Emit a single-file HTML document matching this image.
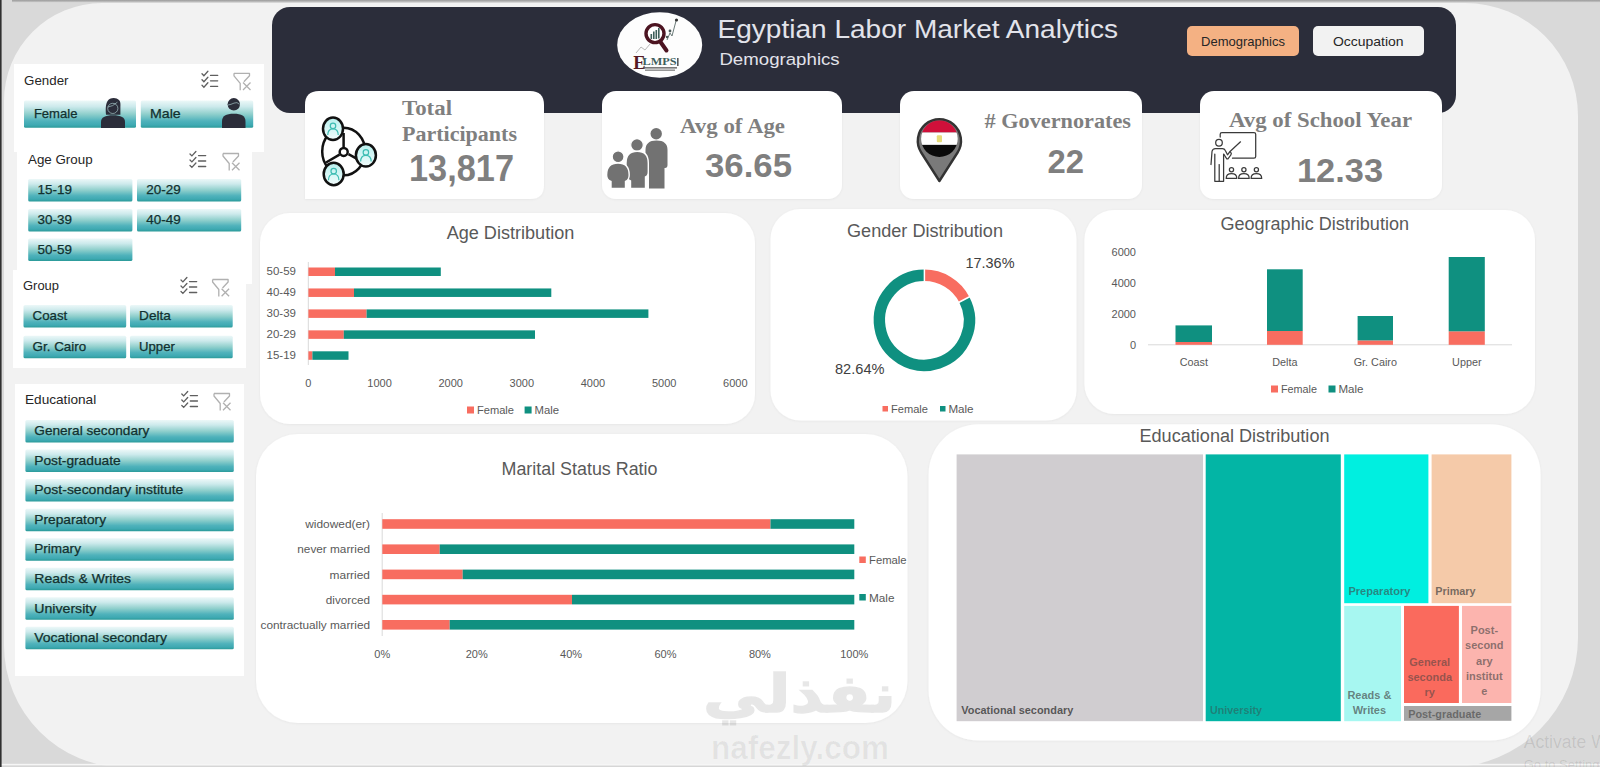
<!DOCTYPE html>
<html lang="en"><head><meta charset="utf-8"><title>Egyptian Labor Market Analytics - Demographics</title>
<style>
html,body{margin:0;padding:0;width:1600px;height:767px;overflow:hidden;background:#d9d9d9}
svg{display:block}
.f1{font-family:"Liberation Sans", "DejaVu Sans", sans-serif}
.f2{font-family:"Liberation Serif", "DejaVu Serif", serif}
</style></head><body>
<svg width="1600" height="767" viewBox="0 0 1600 767">
<defs>
<linearGradient id="topline" x1="0" y1="0" x2="0" y2="1"><stop offset="0" stop-color="#9a9a9a"/><stop offset="1" stop-color="#c8c8c8"/></linearGradient>
<linearGradient id="bg" x1="0" y1="0" x2="0" y2="1">
<stop offset="0" stop-color="#ecf8f8"/><stop offset="0.22" stop-color="#cdeaec"/><stop offset="0.5" stop-color="#8fcfcc"/>
<stop offset="0.75" stop-color="#4fb2bb"/><stop offset="0.9" stop-color="#3ea9b2"/><stop offset="1" stop-color="#2b9a98"/></linearGradient>
<linearGradient id="cyg" x1="0" y1="0" x2="0" y2="1"><stop offset="0" stop-color="#b9f0ee"/><stop offset="1" stop-color="#f2fcfc"/></linearGradient>
<filter id="sh" x="-10%" y="-10%" width="120%" height="130%"><feDropShadow dx="0" dy="0.5" stdDeviation="1.2" flood-color="#000" flood-opacity="0.06"/></filter>
<filter id="sh2" x="-10%" y="-10%" width="120%" height="130%"><feDropShadow dx="0" dy="0.5" stdDeviation="1.2" flood-color="#000" flood-opacity="0.06"/></filter>
</defs>
<rect x="0" y="0" width="1600" height="767" fill="#d9d9d9"/>
<rect x="12" y="0" width="1588" height="2.2" fill="url(#topline)"/>
<path d="M102,3 H1465 A113,113 0 0 1 1578,116 V637.5 A130,130 0 0 1 1448,767.5 H126 A122,122 0 0 1 4,645.5 V101 A98,98 0 0 1 102,3 Z" fill="#f2f2f2"/>
<rect x="0" y="763.8" width="1600" height="1.8" fill="#f6f6f6"/>
<rect x="0" y="765.6" width="1600" height="1.4" fill="#d6d6d6"/>
<rect x="0" y="0" width="1.6" height="767" fill="#303030"/>
<rect x="272" y="7" width="1184" height="106" rx="18" fill="#2b2d3a"/>
<ellipse cx="659.7" cy="45" rx="42.5" ry="32.7" fill="#fdfdfd"/>
<g><polyline points="636,53 641,47 645,50 650,44" fill="none" stroke="#b8b8b8" stroke-width="1"/><polyline points="667,40 670,33 672,36 676,21" fill="none" stroke="#6a7a78" stroke-width="1"/><circle cx="676.5" cy="20" r="1.6" fill="#333"/><circle cx="670" cy="31" r="1.4" fill="#4a5a58"/><circle cx="667" cy="37" r="1.2" fill="#4a5a58"/><line x1="660.5" y1="42" x2="666.5" y2="50.5" stroke="#4c1421" stroke-width="4" stroke-linecap="round"/><circle cx="655" cy="33.6" r="9" fill="#fff" stroke="#4c1421" stroke-width="3.4"/><rect x="650.5" y="34" width="1.6" height="5" fill="#3e5f5a"/><rect x="653" y="31.5" width="1.6" height="7.5" fill="#3e5f5a"/><rect x="655.5" y="30" width="1.6" height="9" fill="#3e5f5a"/><rect x="658" y="28" width="1.6" height="10.5" fill="#3e5f5a"/></g>
<text x="633.2" y="69.3" font-family='"Liberation Serif", "DejaVu Serif", serif' font-size="18.5" font-weight="bold" fill="#561a25">E</text>
<text x="642.5" y="65.4" font-family='"Liberation Serif", "DejaVu Serif", serif' font-size="10.8" font-weight="bold" fill="#3f5f5c" textLength="34" lengthAdjust="spacingAndGlyphs">LMPS</text>
<rect x="677" y="58" width="1.6" height="8" fill="#5a5a5a"/>
<rect x="643" y="67.2" width="34" height="1.3" fill="#5a5a5a"/><rect x="645" y="69.6" width="30" height="1.1" fill="#6a6a6a"/>
<text class="f1" x="717.5" y="38.2" font-size="25.2" fill="#e2e3ea" textLength="400.5" lengthAdjust="spacingAndGlyphs">Egyptian Labor Market Analytics</text>
<text class="f1" x="719.4" y="65" font-size="16.8" fill="#e2e3ea" textLength="120.3" lengthAdjust="spacingAndGlyphs">Demographics</text>
<rect x="1187" y="26" width="112" height="30" rx="5" fill="#f4b183"/>
<text class="f1" x="1201" y="46.3" font-size="13.3" fill="#262626" textLength="84" lengthAdjust="spacingAndGlyphs">Demographics</text>
<rect x="1313" y="26" width="111" height="30" rx="5" fill="#f2f2f2"/>
<text class="f1" x="1333" y="46.3" font-size="13.3" fill="#262626" textLength="70.6" lengthAdjust="spacingAndGlyphs">Occupation</text>
<path d="M319,91 H530 Q544,91 544,105 V185 Q544,199 530,199 H305 Q305,199 305,199 V105 Q305,91 319,91 Z" fill="#fff" filter="url(#sh)"/>
<rect x="602" y="91" width="240" height="108" rx="14" fill="#fff" filter="url(#sh)"/>
<rect x="900" y="91" width="242" height="108" rx="14" fill="#fff" filter="url(#sh)"/>
<rect x="1200" y="91" width="242" height="108" rx="14" fill="#fff" filter="url(#sh)"/>
<text class="f2" x="402" y="115" font-size="20" fill="#7f7f7f" font-weight="bold" textLength="50" lengthAdjust="spacingAndGlyphs">Total</text>
<text class="f2" x="402" y="141.3" font-size="20" fill="#7f7f7f" font-weight="bold" textLength="115" lengthAdjust="spacingAndGlyphs">Participants</text>
<text class="f1" x="409" y="181" font-size="36" fill="#7f7f7f" font-weight="bold" textLength="105" lengthAdjust="spacingAndGlyphs">13,817</text>
<text class="f2" x="680" y="133" font-size="20" fill="#7f7f7f" font-weight="bold" textLength="105" lengthAdjust="spacingAndGlyphs">Avg of Age</text>
<text class="f1" x="705" y="177" font-size="33" fill="#7f7f7f" font-weight="bold" textLength="87" lengthAdjust="spacingAndGlyphs">36.65</text>
<text class="f2" x="984.5" y="127.6" font-size="21" fill="#7f7f7f" font-weight="bold" textLength="146.5" lengthAdjust="spacingAndGlyphs"># Governorates</text>
<text class="f1" x="1047.5" y="173" font-size="33.5" fill="#7f7f7f" font-weight="bold" textLength="36.5" lengthAdjust="spacingAndGlyphs">22</text>
<text class="f2" x="1229" y="127" font-size="21.5" fill="#7f7f7f" font-weight="bold" textLength="183" lengthAdjust="spacingAndGlyphs">Avg of School Year</text>
<text class="f1" x="1297" y="181.5" font-size="34" fill="#7f7f7f" font-weight="bold" textLength="86" lengthAdjust="spacingAndGlyphs">12.33</text>
<g>
<ellipse cx="343.7" cy="151.5" rx="21.5" ry="23.8" fill="none" stroke="#111" stroke-width="2.5"/>
<path d="M343.6,147 V133 M339.5,154.6 L326,162.5 M348.5,154.2 L357,158.8" stroke="#111" stroke-width="2.5" fill="none"/>
<circle cx="343.7" cy="151.9" r="4" fill="#fff" stroke="#111" stroke-width="2.5"/>
<ellipse cx="333" cy="128.8" rx="10" ry="11.2" fill="url(#cyg)" stroke="#111" stroke-width="2.5"/>
<circle cx="333" cy="125.94000000000001" r="2.7300000000000004" fill="none" stroke="#3dbdb3" stroke-width="1.2"/><path d="M327.75,135.07500000000002 Q327.75,128.775 333,128.775 Q338.25,128.775 338.25,135.07500000000002" fill="none" stroke="#3dbdb3" stroke-width="1.2"/>
<ellipse cx="365.9" cy="155.3" rx="10" ry="11.2" fill="url(#cyg)" stroke="#111" stroke-width="2.5"/>
<circle cx="365.9" cy="152.44" r="2.7300000000000004" fill="none" stroke="#3dbdb3" stroke-width="1.2"/><path d="M360.65,161.57500000000002 Q360.65,155.275 365.9,155.275 Q371.15,155.275 371.15,161.57500000000002" fill="none" stroke="#3dbdb3" stroke-width="1.2"/>
<ellipse cx="333.7" cy="174" rx="10" ry="11.2" fill="url(#cyg)" stroke="#111" stroke-width="2.5"/>
<circle cx="333.7" cy="171.14" r="2.7300000000000004" fill="none" stroke="#3dbdb3" stroke-width="1.2"/><path d="M328.45,180.275 Q328.45,173.975 333.7,173.975 Q338.95,173.975 338.95,180.275" fill="none" stroke="#3dbdb3" stroke-width="1.2"/>
</g>
<g>
<circle cx="656.2" cy="133.7" r="5.7" fill="#727272"/>
<path d="M645.5,150 Q645.5,140.5 656.5,140.5 Q667.5,140.5 667.5,150 V165 Q667.5,168 665,168 H664.5 V188.5 H649 V172 Q645.5,170 645.5,165 Z" fill="#727272"/>
<circle cx="637" cy="145" r="6.3" fill="#727272" stroke="#fff" stroke-width="1.2"/>
<path d="M626,163 Q626,151.3 637.2,151.3 Q648.3,151.3 648.3,163 V172 Q648.3,176 645.5,177 V188.5 H630.5 V181 Q626,179 626,174 Z" fill="#727272" stroke="#fff" stroke-width="1.4"/>
<circle cx="618.1" cy="156.7" r="5.9" fill="#727272" stroke="#fff" stroke-width="1.2"/>
<path d="M606.6,175 Q606.6,163 618,163 Q629.2,163 629.2,175 Q629.2,180 625.5,181.5 V188.5 H611 V181.5 Q606.6,180 606.6,175 Z" fill="#727272" stroke="#fff" stroke-width="1.4"/>
</g>
<g>
<path d="M939.4,181 L921.2,152.5 A21.6,21.6 0 1 1 957.6,152.5 Z" fill="#7a7a7a" stroke="#333" stroke-width="2.4" stroke-linejoin="round"/>
<clipPath id="flagc"><circle cx="939.4" cy="138.7" r="18.3"/></clipPath>
<g clip-path="url(#flagc)"><rect x="920" y="119" width="40" height="13.5" fill="#d0103a"/><rect x="920" y="132.5" width="40" height="12.4" fill="#fff"/><rect x="920" y="144.9" width="40" height="13" fill="#0a0a0a"/></g>
<rect x="936.8" y="135.3" width="5.2" height="7" rx="1" fill="#e6dc7a"/>
</g>
<g fill="none" stroke="#3a3a3a" stroke-width="1.25" stroke-linecap="round" stroke-linejoin="round">
<path d="M1220.2,137 V134.3 Q1220.2,132.6 1222,132.6 H1254 Q1255.7,132.6 1255.7,134.3 V156.5 Q1255.7,158.2 1254,158.2 H1232.5"/>
<circle cx="1219" cy="142.7" r="3.3"/>
<path d="M1211,164.5 L1212,151.5 Q1212.5,148.5 1215.5,148.5 H1222.5 Q1224.5,148.5 1225.3,150.5 L1227.5,154.8 L1230,151.5 L1240.5,141.8"/>
<path d="M1230.5,152 Q1232,153.5 1230.8,155 L1228,158.8 L1226.8,158.8 L1224,154.5"/>
<path d="M1214.8,154 V181.3 H1223.6 V154"/>
<path d="M1219.2,164.5 V181.3"/>
<circle cx="1231.5" cy="169.7" r="2.1"/>
<path d="M1226.2,178.4 Q1226.2,173.7 1231.5,173.7 Q1236.8,173.7 1236.8,178.4 Z"/>
<circle cx="1243.9" cy="169.7" r="2.1"/>
<path d="M1238.6000000000001,178.4 Q1238.6000000000001,173.7 1243.9,173.7 Q1249.2,173.7 1249.2,178.4 Z"/>
<circle cx="1256.4" cy="169.7" r="2.1"/>
<path d="M1251.1000000000001,178.4 Q1251.1000000000001,173.7 1256.4,173.7 Q1261.7,173.7 1261.7,178.4 Z"/>
</g>
<rect x="14" y="64" width="250" height="88" fill="#fff"/>
<rect x="17" y="140" width="235" height="144" fill="#fff"/>
<rect x="13" y="270" width="233" height="98" fill="#fff"/>
<rect x="15" y="384" width="229" height="292" fill="#fff"/>
<text class="f1" x="24.1" y="85.2" font-size="13" fill="#262626" textLength="44.4" lengthAdjust="spacingAndGlyphs">Gender</text>
<g fill="none" stroke="#5f5f5f" stroke-width="1.3" stroke-linecap="round"><path d="M202,73.8 l1.9,1.9 l4,-4.4"/><path d="M202,79.8 l1.9,1.9 l4,-4.4"/><path d="M202,85.3 l1.9,1.9 l4,-4.4"/><path d="M210.5,75.4 h7.2 M210.5,80.8 h7.2 M210.5,86.3 h7.2"/></g>
<g fill="none" stroke="#b0b0b0" stroke-width="1.3" stroke-linejoin="round"><path d="M234,73.3 h15.5 v2.5 l-5.6,6 M234,73.3 v2.5 l6.2,7.5 v7"/><path d="M243,82.5 l7.5,7.5 M250.5,82.5 l-7.5,7.5"/></g>
<rect x="24" y="100.5" width="112" height="27.3" rx="1.5" fill="url(#bg)"/>
<text class="f1" x="33.9" y="117.5" font-size="13.2" fill="#11302f" textLength="43.5" lengthAdjust="spacingAndGlyphs" stroke="#11302f" stroke-width="0.25">Female</text>
<rect x="140.8" y="100.5" width="112.4" height="27.3" rx="1.5" fill="url(#bg)"/>
<text class="f1" x="150" y="117.5" font-size="13.2" fill="#11302f" textLength="30.7" lengthAdjust="spacingAndGlyphs" stroke="#11302f" stroke-width="0.25">Male</text>
<path d="M106,114.7 C105.4,108 105.6,101.2 110,98.8 C113,97.2 117,97.8 119,100 C120.6,101.6 120.6,104 120.4,107 L120.4,114.7 Z" fill="#2b2d3a"/>
<circle cx="112.8" cy="108.4" r="5.1" fill="#2b2d3a" stroke="#b9dede" stroke-width="0.6"/>
<path d="M107.9,107 Q112.6,106.6 117.4,102.2" fill="none" stroke="#b9dede" stroke-width="0.6"/>
<path d="M101,128 V122 C101,117.4 105,115.3 113,115.3 C121,115.3 125,117.4 125,122 V128 Z" fill="#2b2d3a"/>
<circle cx="233.8" cy="104.3" r="6.2" fill="#2b2d3a"/>
<path d="M228,105 Q231,104.6 234,103.1 Q237.2,101.5 239.6,104.4" fill="none" stroke="#b9dede" stroke-width="0.6"/>
<path d="M222,128 V121.6 C222,116 226,113.8 233.8,113.8 C241.5,113.8 245.5,116 245.5,121.6 V128 Z" fill="#2b2d3a"/>
<text class="f1" x="28" y="163.5" font-size="13" fill="#262626" textLength="64.6" lengthAdjust="spacingAndGlyphs">Age Group</text>
<g fill="none" stroke="#5f5f5f" stroke-width="1.3" stroke-linecap="round"><path d="M190,154.0 l1.9,1.9 l4,-4.4"/><path d="M190,160.0 l1.9,1.9 l4,-4.4"/><path d="M190,165.5 l1.9,1.9 l4,-4.4"/><path d="M198.5,155.6 h7.2 M198.5,161.0 h7.2 M198.5,166.5 h7.2"/></g>
<g fill="none" stroke="#b0b0b0" stroke-width="1.3" stroke-linejoin="round"><path d="M223,153.5 h15.5 v2.5 l-5.6,6 M223,153.5 v2.5 l6.2,7.5 v7"/><path d="M232,162.7 l7.5,7.5 M239.5,162.7 l-7.5,7.5"/></g>
<rect x="28.2" y="179" width="104.2" height="22.4" rx="1.5" fill="url(#bg)"/>
<text class="f1" x="37.5" y="194.2" font-size="13" fill="#11302f" textLength="34.4" lengthAdjust="spacingAndGlyphs" stroke="#11302f" stroke-width="0.25">15-19</text>
<rect x="137" y="179" width="104.2" height="22.4" rx="1.5" fill="url(#bg)"/>
<text class="f1" x="146.3" y="194.2" font-size="13" fill="#11302f" textLength="34.4" lengthAdjust="spacingAndGlyphs" stroke="#11302f" stroke-width="0.25">20-29</text>
<rect x="28.2" y="209" width="104.2" height="22.4" rx="1.5" fill="url(#bg)"/>
<text class="f1" x="37.5" y="224.2" font-size="13" fill="#11302f" textLength="34.4" lengthAdjust="spacingAndGlyphs" stroke="#11302f" stroke-width="0.25">30-39</text>
<rect x="137" y="209" width="104.2" height="22.4" rx="1.5" fill="url(#bg)"/>
<text class="f1" x="146.3" y="224.2" font-size="13" fill="#11302f" textLength="34.4" lengthAdjust="spacingAndGlyphs" stroke="#11302f" stroke-width="0.25">40-49</text>
<rect x="28.2" y="238.5" width="104.2" height="22.4" rx="1.5" fill="url(#bg)"/>
<text class="f1" x="37.5" y="253.7" font-size="13" fill="#11302f" textLength="34.4" lengthAdjust="spacingAndGlyphs" stroke="#11302f" stroke-width="0.25">50-59</text>
<text class="f1" x="23" y="290" font-size="13" fill="#262626" textLength="36" lengthAdjust="spacingAndGlyphs">Group</text>
<g fill="none" stroke="#5f5f5f" stroke-width="1.3" stroke-linecap="round"><path d="M181,280.0 l1.9,1.9 l4,-4.4"/><path d="M181,286.0 l1.9,1.9 l4,-4.4"/><path d="M181,291.5 l1.9,1.9 l4,-4.4"/><path d="M189.5,281.59999999999997 h7.2 M189.5,287.0 h7.2 M189.5,292.5 h7.2"/></g>
<g fill="none" stroke="#b0b0b0" stroke-width="1.3" stroke-linejoin="round"><path d="M212.6,279.5 h15.5 v2.5 l-5.6,6 M212.6,279.5 v2.5 l6.2,7.5 v7"/><path d="M221.6,288.7 l7.5,7.5 M229.1,288.7 l-7.5,7.5"/></g>
<rect x="23.5" y="305" width="102.7" height="22.6" rx="1.5" fill="url(#bg)"/>
<text class="f1" x="32.6" y="320.3" font-size="13" fill="#11302f" textLength="34.7" lengthAdjust="spacingAndGlyphs" stroke="#11302f" stroke-width="0.25">Coast</text>
<rect x="130" y="305" width="102.7" height="22.6" rx="1.5" fill="url(#bg)"/>
<text class="f1" x="139.1" y="320.3" font-size="13" fill="#11302f" textLength="31.8" lengthAdjust="spacingAndGlyphs" stroke="#11302f" stroke-width="0.25">Delta</text>
<rect x="23.5" y="335.7" width="102.7" height="22.6" rx="1.5" fill="url(#bg)"/>
<text class="f1" x="32.6" y="351.0" font-size="13" fill="#11302f" textLength="53.5" lengthAdjust="spacingAndGlyphs" stroke="#11302f" stroke-width="0.25">Gr. Cairo</text>
<rect x="130" y="335.7" width="102.7" height="22.6" rx="1.5" fill="url(#bg)"/>
<text class="f1" x="139.1" y="351.0" font-size="13" fill="#11302f" textLength="35.7" lengthAdjust="spacingAndGlyphs" stroke="#11302f" stroke-width="0.25">Upper</text>
<text class="f1" x="25" y="403.5" font-size="13" fill="#262626" textLength="71.2" lengthAdjust="spacingAndGlyphs">Educational</text>
<g fill="none" stroke="#5f5f5f" stroke-width="1.3" stroke-linecap="round"><path d="M181.8,394.0 l1.9,1.9 l4,-4.4"/><path d="M181.8,400.0 l1.9,1.9 l4,-4.4"/><path d="M181.8,405.5 l1.9,1.9 l4,-4.4"/><path d="M190.3,395.59999999999997 h7.2 M190.3,401.0 h7.2 M190.3,406.5 h7.2"/></g>
<g fill="none" stroke="#b0b0b0" stroke-width="1.3" stroke-linejoin="round"><path d="M214,393.5 h15.5 v2.5 l-5.6,6 M214,393.5 v2.5 l6.2,7.5 v7"/><path d="M223,402.7 l7.5,7.5 M230.5,402.7 l-7.5,7.5"/></g>
<rect x="25.4" y="420.0" width="208.4" height="22.5" rx="1.5" fill="url(#bg)"/>
<text class="f1" x="34.3" y="435.25" font-size="13" fill="#11302f" textLength="115" lengthAdjust="spacingAndGlyphs" stroke="#11302f" stroke-width="0.25">General secondary</text>
<rect x="25.4" y="449.55" width="208.4" height="22.5" rx="1.5" fill="url(#bg)"/>
<text class="f1" x="34.3" y="464.8" font-size="13" fill="#11302f" textLength="86.4" lengthAdjust="spacingAndGlyphs" stroke="#11302f" stroke-width="0.25">Post-graduate</text>
<rect x="25.4" y="479.1" width="208.4" height="22.5" rx="1.5" fill="url(#bg)"/>
<text class="f1" x="34.3" y="494.35" font-size="13" fill="#11302f" textLength="149" lengthAdjust="spacingAndGlyphs" stroke="#11302f" stroke-width="0.25">Post-secondary institute</text>
<rect x="25.4" y="508.65" width="208.4" height="22.5" rx="1.5" fill="url(#bg)"/>
<text class="f1" x="34.3" y="523.9" font-size="13" fill="#11302f" textLength="71.7" lengthAdjust="spacingAndGlyphs" stroke="#11302f" stroke-width="0.25">Preparatory</text>
<rect x="25.4" y="538.2" width="208.4" height="22.5" rx="1.5" fill="url(#bg)"/>
<text class="f1" x="34.3" y="553.45" font-size="13" fill="#11302f" textLength="46.6" lengthAdjust="spacingAndGlyphs" stroke="#11302f" stroke-width="0.25">Primary</text>
<rect x="25.4" y="567.75" width="208.4" height="22.5" rx="1.5" fill="url(#bg)"/>
<text class="f1" x="34.3" y="583.0" font-size="13" fill="#11302f" textLength="96.8" lengthAdjust="spacingAndGlyphs" stroke="#11302f" stroke-width="0.25">Reads &amp; Writes</text>
<rect x="25.4" y="597.3" width="208.4" height="22.5" rx="1.5" fill="url(#bg)"/>
<text class="f1" x="34.3" y="612.55" font-size="13" fill="#11302f" textLength="62" lengthAdjust="spacingAndGlyphs" stroke="#11302f" stroke-width="0.25">University</text>
<rect x="25.4" y="626.85" width="208.4" height="22.5" rx="1.5" fill="url(#bg)"/>
<text class="f1" x="34.3" y="642.1" font-size="13" fill="#11302f" textLength="132.7" lengthAdjust="spacingAndGlyphs" stroke="#11302f" stroke-width="0.25">Vocational secondary</text>
<rect x="260" y="213" width="495" height="211" rx="30" fill="#fff" filter="url(#sh2)"/>
<rect x="770.5" y="209" width="306" height="211.5" rx="30" fill="#fff" filter="url(#sh2)"/>
<rect x="1084.4" y="210" width="450.6" height="204" rx="30" fill="#fff" filter="url(#sh2)"/>
<rect x="256" y="434" width="651.5" height="289" rx="42" fill="#fff" filter="url(#sh2)"/>
<rect x="928.6" y="424.3" width="612" height="316.3" rx="50" fill="#fff" filter="url(#sh2)"/>
<text class="f1" x="510.5" y="239" font-size="18" fill="#595959" text-anchor="middle" textLength="127.7" lengthAdjust="spacingAndGlyphs">Age Distribution</text>
<line x1="308.3" y1="262" x2="308.3" y2="365" stroke="#d9d9d9" stroke-width="1"/>
<rect x="308.4" y="267.50" width="26.60" height="8.5" fill="#f86d60"/>
<rect x="335.00" y="267.50" width="105.80" height="8.5" fill="#0f9080"/>
<text class="f1" x="296" y="275.1" font-size="11.5" fill="#595959" text-anchor="end">50-59</text>
<rect x="308.4" y="288.45" width="45.60" height="8.5" fill="#f86d60"/>
<rect x="354.00" y="288.45" width="197.30" height="8.5" fill="#0f9080"/>
<text class="f1" x="296" y="296.05" font-size="11.5" fill="#595959" text-anchor="end">40-49</text>
<rect x="308.4" y="309.40" width="58.20" height="8.5" fill="#f86d60"/>
<rect x="366.60" y="309.40" width="281.80" height="8.5" fill="#0f9080"/>
<text class="f1" x="296" y="317.0" font-size="11.5" fill="#595959" text-anchor="end">30-39</text>
<rect x="308.4" y="330.35" width="35.40" height="8.5" fill="#f86d60"/>
<rect x="343.80" y="330.35" width="191.20" height="8.5" fill="#0f9080"/>
<text class="f1" x="296" y="337.95" font-size="11.5" fill="#595959" text-anchor="end">20-29</text>
<rect x="308.4" y="351.30" width="4.00" height="8.5" fill="#f86d60"/>
<rect x="312.40" y="351.30" width="36.10" height="8.5" fill="#0f9080"/>
<text class="f1" x="296" y="358.9" font-size="11.5" fill="#595959" text-anchor="end">15-19</text>
<text class="f1" x="308.4" y="386.5" font-size="11" fill="#595959" text-anchor="middle">0</text>
<text class="f1" x="379.55" y="386.5" font-size="11" fill="#595959" text-anchor="middle">1000</text>
<text class="f1" x="450.7" y="386.5" font-size="11" fill="#595959" text-anchor="middle">2000</text>
<text class="f1" x="521.85" y="386.5" font-size="11" fill="#595959" text-anchor="middle">3000</text>
<text class="f1" x="593.0" y="386.5" font-size="11" fill="#595959" text-anchor="middle">4000</text>
<text class="f1" x="664.15" y="386.5" font-size="11" fill="#595959" text-anchor="middle">5000</text>
<text class="f1" x="735.3" y="386.5" font-size="11" fill="#595959" text-anchor="middle">6000</text>
<rect x="467" y="406.5" width="7" height="7" fill="#f86d60"/>
<text class="f1" x="477" y="414" font-size="11" fill="#595959" textLength="37" lengthAdjust="spacingAndGlyphs">Female</text>
<rect x="524.6" y="406.5" width="7" height="7" fill="#0f9080"/>
<text class="f1" x="534.5" y="414" font-size="11" fill="#595959" textLength="24.5" lengthAdjust="spacingAndGlyphs">Male</text>
<text class="f1" x="925" y="236.6" font-size="17.6" fill="#595959" text-anchor="middle" textLength="156" lengthAdjust="spacingAndGlyphs">Gender Distribution</text>
<path d="M924.40,275.30 A45.0,45.0 0 0 1 964.31,299.52" fill="none" stroke="#f86d60" stroke-width="11.4"/>
<path d="M964.31,299.52 A45.0,45.0 0 1 1 924.40,275.30" fill="none" stroke="#0f9080" stroke-width="11.4"/>
<line x1="924.40" y1="282.30" x2="924.40" y2="268.30" stroke="#fff" stroke-width="1.5"/>
<line x1="958.11" y1="302.75" x2="970.52" y2="296.29" stroke="#fff" stroke-width="1.5"/>
<text class="f1" x="965.5" y="268.4" font-size="14" fill="#404040" textLength="49" lengthAdjust="spacingAndGlyphs">17.36%</text>
<text class="f1" x="835" y="374" font-size="14" fill="#404040" textLength="49.5" lengthAdjust="spacingAndGlyphs">82.64%</text>
<rect x="882.5" y="406" width="5.5" height="5.5" fill="#f86d60"/>
<text class="f1" x="891" y="413" font-size="11" fill="#595959" textLength="37" lengthAdjust="spacingAndGlyphs">Female</text>
<rect x="940" y="406" width="5.5" height="5.5" fill="#0f9080"/>
<text class="f1" x="948.4" y="413" font-size="11" fill="#595959" textLength="25.2" lengthAdjust="spacingAndGlyphs">Male</text>
<text class="f1" x="1314.7" y="230" font-size="17.5" fill="#595959" text-anchor="middle" textLength="188.6" lengthAdjust="spacingAndGlyphs">Geographic Distribution</text>
<text class="f1" x="1136" y="348.7" font-size="11" fill="#595959" text-anchor="end">0</text>
<text class="f1" x="1136" y="317.9" font-size="11" fill="#595959" text-anchor="end">2000</text>
<text class="f1" x="1136" y="287.1" font-size="11" fill="#595959" text-anchor="end">4000</text>
<text class="f1" x="1136" y="256.3" font-size="11" fill="#595959" text-anchor="end">6000</text>
<line x1="1148" y1="344.8" x2="1512" y2="344.8" stroke="#d9d9d9" stroke-width="1"/>
<rect x="1175.5" y="342" width="36.5" height="2.8" fill="#f86d60"/>
<rect x="1175.5" y="325.4" width="36.5" height="16.6" fill="#0f9080"/>
<text class="f1" x="1193.8" y="366" font-size="10.8" fill="#595959" text-anchor="middle">Coast</text>
<rect x="1267" y="331" width="35.7" height="13.8" fill="#f86d60"/>
<rect x="1267" y="269.3" width="35.7" height="61.7" fill="#0f9080"/>
<text class="f1" x="1284.8" y="366" font-size="10.8" fill="#595959" text-anchor="middle">Delta</text>
<rect x="1357.6" y="340.4" width="35.4" height="4.4" fill="#f86d60"/>
<rect x="1357.6" y="316" width="35.4" height="24.4" fill="#0f9080"/>
<text class="f1" x="1375.3" y="366" font-size="10.8" fill="#595959" text-anchor="middle">Gr. Cairo</text>
<rect x="1448.7" y="331.3" width="36.1" height="13.5" fill="#f86d60"/>
<rect x="1448.7" y="257" width="36.1" height="74.3" fill="#0f9080"/>
<text class="f1" x="1466.8" y="366" font-size="10.8" fill="#595959" text-anchor="middle">Upper</text>
<rect x="1271" y="385.5" width="7" height="7" fill="#f86d60"/>
<text class="f1" x="1281" y="393" font-size="11" fill="#595959" textLength="36" lengthAdjust="spacingAndGlyphs">Female</text>
<rect x="1328.5" y="385.5" width="7" height="7" fill="#0f9080"/>
<text class="f1" x="1338.5" y="393" font-size="11" fill="#595959" textLength="25" lengthAdjust="spacingAndGlyphs">Male</text>
<text class="f1" x="579.5" y="475" font-size="17.5" fill="#595959" text-anchor="middle" textLength="156" lengthAdjust="spacingAndGlyphs">Marital Status Ratio</text>
<line x1="382.2" y1="513" x2="382.2" y2="636" stroke="#d9d9d9" stroke-width="1"/>
<rect x="382.3" y="519.20" width="388.20" height="9.6" fill="#f86d60"/>
<rect x="770.50" y="519.20" width="83.80" height="9.6" fill="#0f9080"/>
<text class="f1" x="370" y="528.2" font-size="11.5" fill="#595959" text-anchor="end" textLength="64.7" lengthAdjust="spacingAndGlyphs">widowed(er)</text>
<rect x="382.3" y="544.40" width="57.40" height="9.6" fill="#f86d60"/>
<rect x="439.70" y="544.40" width="414.60" height="9.6" fill="#0f9080"/>
<text class="f1" x="370" y="553.4" font-size="11.5" fill="#595959" text-anchor="end" textLength="72.7" lengthAdjust="spacingAndGlyphs">never married</text>
<rect x="382.3" y="569.60" width="80.40" height="9.6" fill="#f86d60"/>
<rect x="462.70" y="569.60" width="391.60" height="9.6" fill="#0f9080"/>
<text class="f1" x="370" y="578.6" font-size="11.5" fill="#595959" text-anchor="end" textLength="40.4" lengthAdjust="spacingAndGlyphs">married</text>
<rect x="382.3" y="594.80" width="189.70" height="9.6" fill="#f86d60"/>
<rect x="572.00" y="594.80" width="282.30" height="9.6" fill="#0f9080"/>
<text class="f1" x="370" y="603.8" font-size="11.5" fill="#595959" text-anchor="end" textLength="44.2" lengthAdjust="spacingAndGlyphs">divorced</text>
<rect x="382.3" y="620.00" width="67.40" height="9.6" fill="#f86d60"/>
<rect x="449.70" y="620.00" width="404.60" height="9.6" fill="#0f9080"/>
<text class="f1" x="370" y="629.0" font-size="11.5" fill="#595959" text-anchor="end" textLength="109.5" lengthAdjust="spacingAndGlyphs">contractually married</text>
<text class="f1" x="382.3" y="658" font-size="11" fill="#595959" text-anchor="middle">0%</text>
<text class="f1" x="476.7" y="658" font-size="11" fill="#595959" text-anchor="middle">20%</text>
<text class="f1" x="571.1" y="658" font-size="11" fill="#595959" text-anchor="middle">40%</text>
<text class="f1" x="665.5" y="658" font-size="11" fill="#595959" text-anchor="middle">60%</text>
<text class="f1" x="759.9" y="658" font-size="11" fill="#595959" text-anchor="middle">80%</text>
<text class="f1" x="854.3" y="658" font-size="11" fill="#595959" text-anchor="middle">100%</text>
<rect x="859.3" y="556.5" width="6.5" height="6.5" fill="#f86d60"/>
<text class="f1" x="869" y="564" font-size="11" fill="#595959" textLength="37.6" lengthAdjust="spacingAndGlyphs">Female</text>
<rect x="859.3" y="594" width="6.5" height="6.5" fill="#0f9080"/>
<text class="f1" x="869" y="601.5" font-size="11" fill="#595959" textLength="25.5" lengthAdjust="spacingAndGlyphs">Male</text>
<text class="f1" x="1234.5" y="442.4" font-size="18" fill="#595959" text-anchor="middle" textLength="190" lengthAdjust="spacingAndGlyphs">Educational Distribution</text>
<rect x="956.6" y="454.4" width="246.4" height="266.8" fill="#d0cdd0"/>
<rect x="1205.7" y="454.4" width="135.1" height="266.8" fill="#03b5a5"/>
<rect x="1344.2" y="454.4" width="84.2" height="148.8" fill="#00efe0"/>
<rect x="1431.6" y="454.4" width="79.8" height="148.8" fill="#f5caa9"/>
<rect x="1344.2" y="605.9" width="56.8" height="115.3" fill="#a7f7f1"/>
<rect x="1404" y="605.9" width="54.9" height="97.1" fill="#fa6a5d"/>
<rect x="1462" y="605.9" width="49.4" height="97.1" fill="#fcb4ae"/>
<rect x="1404" y="706" width="107.4" height="14.8" fill="#a6a6a6"/>
<text class="f1" x="961.3" y="714" font-size="11" fill="#404040" font-weight="bold" textLength="112" lengthAdjust="spacingAndGlyphs" fill-opacity="0.85">Vocational secondary</text>
<text class="f1" x="1210" y="714" font-size="11" fill="#404040" font-weight="bold" textLength="52" lengthAdjust="spacingAndGlyphs" fill-opacity="0.45">University</text>
<text class="f1" x="1348.4" y="595.4" font-size="11" fill="#404040" font-weight="bold" textLength="62" lengthAdjust="spacingAndGlyphs" fill-opacity="0.6">Preparatory</text>
<text class="f1" x="1435.3" y="595.4" font-size="11" fill="#404040" font-weight="bold" textLength="40.3" lengthAdjust="spacingAndGlyphs" fill-opacity="0.7">Primary</text>
<text class="f1" x="1369.4" y="698.9" font-size="11" fill="#404040" text-anchor="middle" font-weight="bold" fill-opacity="0.65">Reads &amp;</text>
<text class="f1" x="1369.4" y="713.9" font-size="11" fill="#404040" text-anchor="middle" font-weight="bold" fill-opacity="0.65">Writes</text>
<text class="f1" x="1429.7" y="665.5" font-size="11" fill="#404040" text-anchor="middle" font-weight="bold" fill-opacity="0.55">General</text>
<text class="f1" x="1429.7" y="680.5" font-size="11" fill="#404040" text-anchor="middle" font-weight="bold" fill-opacity="0.55">seconda</text>
<text class="f1" x="1429.7" y="695.5" font-size="11" fill="#404040" text-anchor="middle" font-weight="bold" fill-opacity="0.55">ry</text>
<text class="f1" x="1484.3" y="634.2" font-size="11" fill="#404040" text-anchor="middle" font-weight="bold" fill-opacity="0.6">Post-</text>
<text class="f1" x="1484.3" y="649.4" font-size="11" fill="#404040" text-anchor="middle" font-weight="bold" fill-opacity="0.6">second</text>
<text class="f1" x="1484.3" y="664.6" font-size="11" fill="#404040" text-anchor="middle" font-weight="bold" fill-opacity="0.6">ary</text>
<text class="f1" x="1484.3" y="679.8" font-size="11" fill="#404040" text-anchor="middle" font-weight="bold" fill-opacity="0.6">institut</text>
<text class="f1" x="1484.3" y="695.0" font-size="11" fill="#404040" text-anchor="middle" font-weight="bold" fill-opacity="0.6">e</text>
<clipPath id="pgc"><rect x="1404" y="706" width="107.4" height="14.8"/></clipPath><g clip-path="url(#pgc)">
<text class="f1" x="1408.2" y="717.7" font-size="11" fill="#404040" font-weight="bold" textLength="73" lengthAdjust="spacingAndGlyphs" fill-opacity="0.6">Post-graduate</text>
</g>
<g opacity="0.09"><text x="799.5" y="712" font-family='"DejaVu Sans", sans-serif' font-weight="bold" font-size="52" fill="#000" stroke="#000" stroke-width="1.5" text-anchor="middle" textLength="193" lengthAdjust="spacingAndGlyphs">نفذلي</text></g>
<text class="f1" x="711" y="759.2" font-size="33.5" fill="#000" font-weight="bold" textLength="178" lengthAdjust="spacingAndGlyphs" fill-opacity="0.06">nafezly.com</text>
<text class="f1" x="1523.7" y="747.6" font-size="17.6" fill="#000" fill-opacity="0.1">Activate Windows</text>
<text class="f1" x="1523.7" y="769" font-size="13" fill="#000" fill-opacity="0.1">Go to Settings to activate Windows.</text>
</svg>
</body></html>
